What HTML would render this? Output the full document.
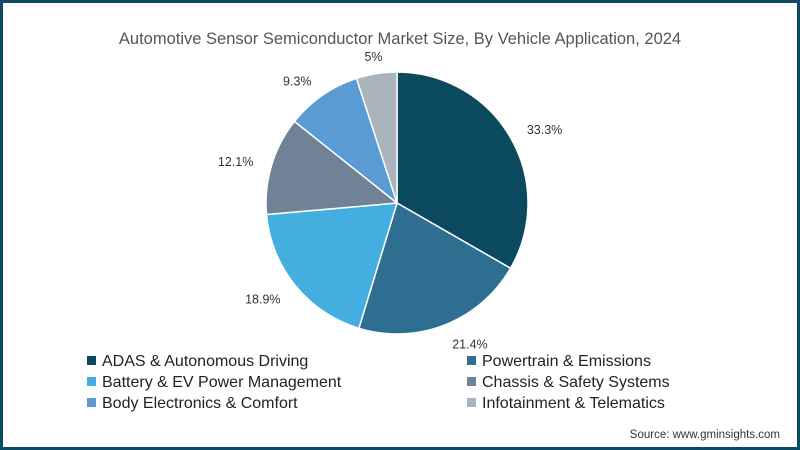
<!DOCTYPE html>
<html><head><meta charset="utf-8"><style>
body{margin:0;background:#fff;}
#wrap{position:relative;width:800px;height:450px;box-sizing:border-box;border:3px solid #0d4a63;background:#fff;overflow:hidden;font-family:"Liberation Sans",sans-serif;}
svg{position:absolute;left:-3px;top:-3px;}
</style></head><body>
<div id="wrap">
<svg id="chart" width="800" height="450">
<text x="400" y="44" text-anchor="middle" font-size="16.5" fill="#555">Automotive Sensor Semiconductor Market Size, By Vehicle Application, 2024</text>
<g id="slices"></g><g id="labels"></g><g id="legend"></g>
<text x="780" y="438" text-anchor="end" font-size="11.5" fill="#333">Source: www.gminsights.com</text>
</svg></div>
<script>
const categories=["ADAS & Autonomous Driving","Powertrain & Emissions","Battery & EV Power Management","Chassis & Safety Systems","Body Electronics & Comfort","Infotainment & Telematics"];
const values=[33.3,21.4,18.9,12.1,9.3,5];
const valueLabels=["33.3%","21.4%","18.9%","12.1%","9.3%","5%"];
const colors=["#0b4a5e","#2e6e91","#45aee0","#6f8296","#5b9bd5","#a9b4bd"];
const NS="http://www.w3.org/2000/svg";
const cx=397,cy=203,r=131,lr=150;
const total=values.reduce((a,b)=>a+b,0);
let a0=0;
const sg=document.getElementById('slices'),lg=document.getElementById('labels'),leg=document.getElementById('legend');
function pt(a,rad){return [cx+rad*Math.sin(a),cy-rad*Math.cos(a)];}
values.forEach((v,i)=>{
 const a1=a0+v/total*2*Math.PI;
 const p0=pt(a0,r),p1=pt(a1,r);
 const p=document.createElementNS(NS,'path');
 p.setAttribute('d',`M${cx},${cy}L${p0[0]},${p0[1]}A${r},${r} 0 ${a1-a0>Math.PI?1:0} 1 ${p1[0]},${p1[1]}Z`);
 p.setAttribute('fill',colors[i]);p.setAttribute('stroke','#fff');p.setAttribute('stroke-width','1.5');
 
 
 sg.appendChild(p);
 const m=(a0+a1)/2,lp=pt(m,lr);
 const t=document.createElementNS(NS,'text');
 const s=Math.sin(m);
 t.setAttribute('x',lp[0]);t.setAttribute('y',lp[1]+6);
 t.setAttribute('text-anchor',Math.abs(s)<0.3?'middle':(s>0?'start':'end'));
 t.setAttribute('font-size','12.5');t.setAttribute('fill','#333');
 t.textContent=valueLabels[i];
 
 
 lg.appendChild(t);
 a0=a1;
 const col=i%2,row=Math.floor(i/2);
 const x=col?467:87,y=356+row*21;
 const sq=document.createElementNS(NS,'rect');
 sq.setAttribute('x',x);sq.setAttribute('y',y);sq.setAttribute('width',9);sq.setAttribute('height',9);sq.setAttribute('fill',colors[i]);
 
 
 leg.appendChild(sq);
 const lt=document.createElementNS(NS,'text');
 lt.setAttribute('x',x+15);lt.setAttribute('y',y+10);lt.setAttribute('font-size','16');lt.setAttribute('fill','#222');
 lt.textContent=categories[i];
 
 
 leg.appendChild(lt);
});
</script>
</body></html>
